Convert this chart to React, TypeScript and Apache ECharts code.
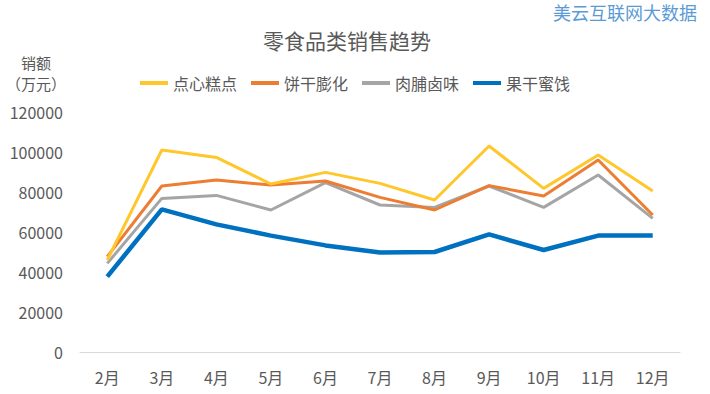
import React, { useEffect, useRef } from "react";
import * as echarts from "echarts";

const months = ["2月", "3月", "4月", "5月", "6月", "7月", "8月", "9月", "10月", "11月", "12月"];
const snacks = [46000, 101000, 97300, 84000, 89800, 84300, 76000, 103000, 81800, 98500, 80500];
const biscuits = [47700, 83000, 86000, 83500, 85500, 77300, 71000, 83200, 78000, 96000, 68500];
const jerky = [44300, 76800, 78300, 71000, 84700, 73500, 72300, 83000, 72300, 88500, 66800];
const driedFruit = [37700, 71300, 63800, 58200, 53300, 49700, 50000, 58800, 51000, 58200, 58200];
const seriesNames = ["点心糕点", "饼干膨化", "肉脯卤味", "果干蜜饯"];
const colors = ["#FFC72C", "#ED7D31", "#A5A5A5", "#0070C0"];

const FONT = '"Microsoft YaHei", "Noto Sans CJK SC", sans-serif';
const TEXT = "#595959";

export default function App() {
  const ref = useRef<HTMLDivElement>(null);
  useEffect(() => {
    if (!ref.current) return;
    const chart = echarts.init(ref.current, undefined, { renderer: "svg" });
    const data = [snacks, biscuits, jerky, driedFruit];
    chart.setOption({
      animation: false,
      backgroundColor: "#ffffff",
      textStyle: { fontFamily: FONT },
      grid: { left: 80, right: 30, top: 112, bottom: 42, containLabel: false },
      legend: {
        left: 135,
        top: 70,
        itemWidth: 28,
        itemHeight: 4,
        itemGap: 14,
        icon: "rect",
        textStyle: { color: TEXT, fontSize: 16, fontFamily: FONT },
        data: seriesNames,
      },
      graphic: [
        {
          type: "text",
          x: 347,
          y: 40,
          style: {
            text: "零食品类销售趋势",
            fill: TEXT,
            fontSize: 21,
            fontFamily: FONT,
            textAlign: "center",
            textVerticalAlign: "middle",
          },
        },
        {
          type: "text",
          x: 697,
          y: 12,
          style: {
            text: "美云互联网大数据",
            fill: "#5B9BD5",
            fontSize: 18,
            fontFamily: FONT,
            textAlign: "right",
            textVerticalAlign: "middle",
          },
        },
        {
          type: "text",
          x: 36,
          y: 62,
          style: {
            text: "销额",
            fill: TEXT,
            fontSize: 15,
            fontFamily: FONT,
            textAlign: "center",
            textVerticalAlign: "middle",
          },
        },
        {
          type: "text",
          x: 36,
          y: 83,
          style: {
            text: "（万元）",
            fill: TEXT,
            fontSize: 15,
            fontFamily: FONT,
            textAlign: "center",
            textVerticalAlign: "middle",
          },
        },
      ],
      xAxis: {
        type: "category",
        data: months,
        boundaryGap: true,
        axisLine: { show: true, lineStyle: { color: "#D9D9D9", width: 1 } },
        axisTick: { show: false },
        axisLabel: { color: TEXT, fontSize: 16, margin: 17, fontFamily: FONT },
        splitLine: { show: false },
      },
      yAxis: {
        type: "value",
        min: 0,
        max: 120000,
        interval: 20000,
        axisLine: { show: false },
        axisTick: { show: false },
        splitLine: { show: false },
        axisLabel: {
          color: TEXT,
          fontSize: 16,
          margin: 17,
          fontFamily: FONT,
          formatter: (v: number) => String(v),
        },
      },
      series: seriesNames.map((name, i) => ({
        name,
        type: "line",
        data: data[i],
        symbol: "none",
        lineStyle: { color: colors[i], width: i === 3 ? 4.5 : 3 },
        itemStyle: { color: colors[i] },
        z: i === 3 ? 5 : 4 - i,
      })),
    });
    return () => chart.dispose();
  }, []);
  return <div ref={ref} style={{ width: 710, height: 394, position: "absolute", left: 0, top: 0 }} />;
}
